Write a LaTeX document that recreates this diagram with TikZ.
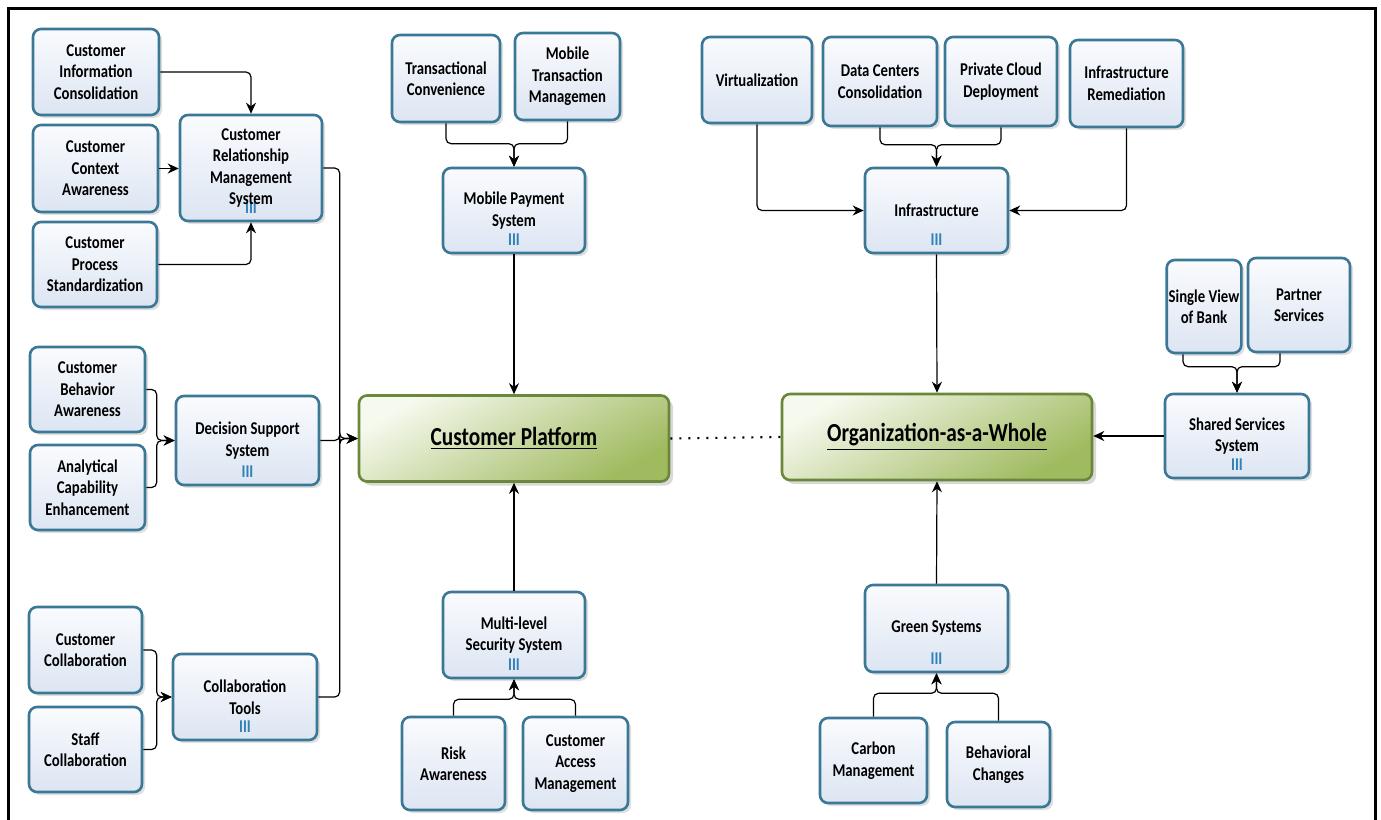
\documentclass[tikz,border=0pt]{standalone}
\usepackage{fontspec}
\newfontfamily\boxfont{Carlito}[FakeStretch=0.82]
\usetikzlibrary{arrows.meta,shadows}

\definecolor{boxedge}{HTML}{3A7896}
\definecolor{boxtop}{HTML}{FAFBFE}
\definecolor{boxbot}{HTML}{DCE5F2}
\definecolor{hubedge}{HTML}{6A873A}
\definecolor{hublight}{HTML}{F6F9EE}
\definecolor{hubmid}{HTML}{E2EBCB}
\definecolor{hubdark}{HTML}{9FBA5F}
\definecolor{markblue}{HTML}{2F80B8}

\tikzset{
  taskbox/.style={draw=boxedge, line width=1.3pt, rounded corners=4pt,
    top color=boxtop, bottom color=boxbot, align=center, inner sep=2pt,
    font=\boxfont\bfseries\fontsize{9}{10.75}\selectfont,
    drop shadow={shadow xshift=1.5pt, shadow yshift=-1.5pt, opacity=0.25}},
  sz/.style 2 args={minimum width=#1pt, minimum height=#2pt},
  sysbox/.style={taskbox, path picture={
    \node[text=markblue, inner sep=0pt, font=\boxfont\bfseries\fontsize{9}{9}\selectfont]
      at ([yshift=6.5pt]path picture bounding box.south) {III};}},
  hubbox/.style={draw=hubedge, line width=1.3pt, rounded corners=4pt,
    top color=hublight, middle color=hubmid, bottom color=hubdark, shading angle=30,
    minimum width=155pt, minimum height=43pt,
    font=\boxfont\bfseries\fontsize{13}{15}\selectfont,
    drop shadow={shadow xshift=2pt, shadow yshift=-2pt, opacity=0.3}},
  link/.style={line width=0.6pt, rounded corners=2.5pt, -{Stealth[length=5.5pt, width=5pt]}},
  frame/.style={line width=1.5pt},
}

\begin{document}
\begin{tikzpicture}[x=0.5pt, y=-0.5pt]
  \useasboundingbox (0,0) rectangle (1381,819);
  \draw[frame] (8,840) |- (1375,8) -- (1375,840);

  % hubs
  \node[hubbox] (cp) at (514,438.5) {\underline{Customer\ Platform}};
  \node[hubbox] (org) at (937,437) {\underline{Organization-as-a-Whole}};
  \draw[line width=1.1pt, dash pattern=on 1pt off 3.5pt] (cp.east) -- (org.west);

  % customer relationship
  \node[taskbox, sz={63}{43}] (cic) at (96,72) {Customer\\Information\\Consolidation};
  \node[taskbox, sz={62.5}{43.5}] (cca) at (95.5,168.5) {Customer\\Context\\Awareness};
  \node[taskbox, sz={62}{42.5}] (cps) at (95,264.5) {Customer\\Process\\Standardization};
  \node[sysbox, sz={71}{53}] (crm) at (251,168) {Customer\\Relationship\\Management\\System};

  % decision support
  \node[taskbox, sz={57.5}{42.5}] (cba) at (87.5,389.5) {Customer\\Behavior\\Awareness};
  \node[taskbox, sz={57.5}{42.5}] (ace) at (87.5,487.5) {Analytical\\Capability\\Enhancement};
  \node[sysbox, sz={71.5}{44.5}] (dss) at (247.5,440.5) {Decision Support\\System};

  % collaboration
  \node[taskbox, sz={56.5}{43}] (ccol) at (85.5,650) {Customer\\Collaboration};
  \node[taskbox, sz={56.5}{42.5}] (scol) at (85.5,749.5) {Staff\\Collaboration};
  \node[sysbox, sz={72}{43}] (ctool) at (245,697) {Collaboration\\Tools};

  % mobile payment
  \node[taskbox, sz={54}{43.5}] (tc) at (446,78.5) {Transactional\\Convenience};
  \node[taskbox, sz={52.5}{43.5}] (mtm) at (567.5,76.5) {Mobile\\Transaction\\Managemen};
  \node[sysbox, sz={71}{42.5}] (mps) at (514,210.5) {Mobile Payment\\System};

  % security
  \node[sysbox, sz={71}{43}] (mls) at (514,635) {Multi-level\\Security System};
  \node[taskbox, sz={51.5}{46.5}] (ra) at (453.5,763.5) {Risk\\Awareness};
  \node[taskbox, sz={52.5}{46.5}] (cam) at (575.5,763.5) {Customer\\Access\\Management};

  % infrastructure
  \node[taskbox, sz={55}{43}] (virt) at (757,80) {Virtualization};
  \node[taskbox, sz={57}{44.5}] (dcc) at (880,81.5) {Data Centers\\Consolidation};
  \node[taskbox, sz={56}{44.5}] (pcd) at (1001,81.5) {Private Cloud\\Deployment};
  \node[taskbox, sz={56.5}{43.5}] (irem) at (1126.5,83.5) {Infrastructure\\Remediation};
  \node[sysbox, sz={71.5}{42.5}] (infra) at (936.5,210.5) {Infrastructure};

  % shared services
  \node[taskbox, sz={33}{46.5}, inner sep=1pt] (svb) at (1204,306.5) {Single View\\of Bank};
  \node[taskbox, sz={51}{47}] (psrv) at (1299,305) {Partner\\Services};
  \node[sysbox, sz={72}{42}] (sss) at (1237,436) {Shared Services\\System};

  % green
  \node[sysbox, sz={71.5}{43.5}] (gs) at (936.5,628.5) {Green Systems};
  \node[taskbox, sz={53.5}{42.5}] (cm) at (873.5,760.5) {Carbon\\Management};
  \node[taskbox, sz={51.5}{42.5}] (bc) at (998.5,764.5) {Behavioral\\Changes};

  % merge points
  \coordinate (cpin) at ([xshift=-9pt]cp.west);
  \coordinate (dssin) at ([xshift=-9pt]dss.west);
  \coordinate (ctin) at ([xshift=-7.5pt]ctool.west);
  \coordinate (mpsin) at ([yshift=11.5pt]mps.north);
  \coordinate (infin) at ([yshift=11pt]infra.north);
  \coordinate (sssin) at ([yshift=13pt]sss.north);
  \coordinate (mlsin) at ([yshift=-10pt]mls.south);
  \coordinate (gsin) at ([yshift=-10pt]gs.south);
  \coordinate (svbout) at ([xshift=-10.5pt]svb.south);
  \coordinate (psout) at ([xshift=-9.5pt]psrv.south);

  % connectors
  \draw[link] (cic.east) -| (crm.north);
  \draw[link] (cca.east) -- (cca.east -| crm.west);
  \draw[link] (cps.east) -| (crm.south);
  \draw[link] (cba.east) -| (dssin) -- (dss.west);
  \draw[link] (ace.east) -| (dssin) -- (dss.west);
  \draw[link] (ccol.east) -| (ctin) -- (ctool.west);
  \draw[link] (scol.east) -| (ctin) -- (ctool.west);
  \draw[link] (crm.east) -| (cpin) -- (cp.west);
  \draw[link] (dss.east) -| (cpin) -- (cp.west);
  \draw[link] (ctool.east) -| (cpin) -- (cp.west);

  \draw[link] (tc.south) |- (mpsin) -- (mps.north);
  \draw[link] (mtm.south) |- (mpsin) -- (mps.north);
  \draw[link] (mps.south) -- (cp.north);
  \draw[link] (ra.north) |- (mlsin) -- (mls.south);
  \draw[link] (cam.north) |- (mlsin) -- (mls.south);
  \draw[link] (mls.north) -- (cp.south);

  \draw[link] (virt.south) |- (infra.west);
  \draw[link] (irem.south) |- (infra.east);
  \draw[link] (dcc.south) |- (infin) -- (infra.north);
  \draw[link] (pcd.south) |- (infin) -- (infra.north);
  \draw[link] (infra.south) -- (org.north);
  \draw[link] (svbout) |- (sssin) -- (sss.north);
  \draw[link] (psout) |- (sssin) -- (sss.north);
  \draw[link] (sss.west) -- (sss.west -| org.east);
  \draw[link] (cm.north) |- (gsin) -- (gs.south);
  \draw[link] (bc.north) |- (gsin) -- (gs.south);
  \draw[link] (gs.north) -- (org.south);
\end{tikzpicture}
\end{document}
